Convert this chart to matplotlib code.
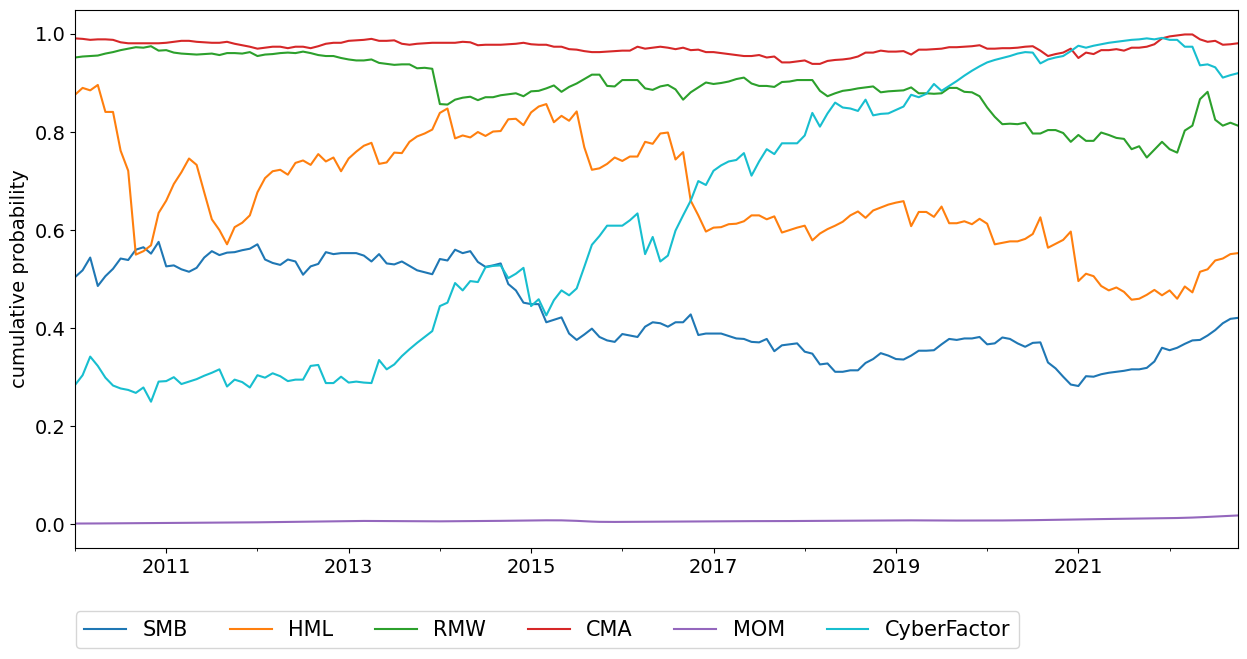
import pandas as pd
import matplotlib
matplotlib.use('Agg')
import matplotlib.pyplot as plt

# Monthly dates, Jan 2010 - Oct 2022
dates = pd.date_range('2010-01-01', periods=154, freq='MS')

smb = [0.504, 0.518, 0.544, 0.486, 0.506, 0.521, 0.542, 0.539, 0.56, 0.565, 0.552, 0.576, 0.526, 0.528, 0.52, 0.515,
       0.523, 0.544, 0.557, 0.549, 0.554, 0.555, 0.559, 0.562, 0.571, 0.54, 0.533,
       0.529, 0.54, 0.536, 0.509, 0.526, 0.531, 0.555, 0.551, 0.553, 0.553, 0.553, 0.548, 0.536, 0.551, 0.532, 0.53,
       0.536, 0.527, 0.518, 0.514, 0.51, 0.541, 0.538, 0.56, 0.553,
       0.557, 0.535, 0.525, 0.528, 0.532, 0.49, 0.477, 0.452, 0.449, 0.449, 0.412, 0.417, 0.422, 0.389, 0.376, 0.387,
       0.399, 0.382, 0.375, 0.372, 0.388, 0.385, 0.382, 0.403, 0.412, 0.41,
       0.403, 0.412, 0.412, 0.428, 0.386, 0.389, 0.389, 0.389, 0.384, 0.379, 0.378, 0.372, 0.371, 0.378, 0.353, 0.365,
       0.367, 0.369, 0.352, 0.348, 0.326, 0.328, 0.311, 0.311,
       0.314, 0.314, 0.329, 0.337, 0.349, 0.344, 0.337, 0.336, 0.344, 0.354, 0.354, 0.355, 0.367, 0.378, 0.376, 0.379,
       0.379, 0.382, 0.367, 0.369, 0.381, 0.378, 0.369, 0.362, 0.37, 0.371,
       0.33, 0.318, 0.301, 0.285, 0.282, 0.302, 0.301, 0.306, 0.309, 0.311, 0.313, 0.316, 0.316, 0.319, 0.332, 0.36,
       0.355, 0.36, 0.368, 0.375, 0.376, 0.385, 0.396, 0.41, 0.419, 0.421]

hml = [0.876, 0.89, 0.885, 0.896, 0.841, 0.841, 0.762, 0.721, 0.55, 0.557, 0.569, 0.635, 0.66, 0.694, 0.718, 0.746,
       0.733, 0.677, 0.622, 0.6, 0.571, 0.606, 0.615, 0.63, 0.677, 0.706, 0.72,
       0.723, 0.713, 0.737, 0.742, 0.733, 0.755, 0.74, 0.748, 0.72, 0.746, 0.76, 0.772, 0.778, 0.735, 0.738, 0.758,
       0.757, 0.78, 0.791, 0.797, 0.805, 0.839, 0.848, 0.787, 0.793,
       0.789, 0.8, 0.792, 0.801, 0.802, 0.826, 0.827, 0.814, 0.84, 0.852, 0.857, 0.82, 0.833, 0.823, 0.842, 0.769,
       0.723, 0.726, 0.735, 0.748, 0.741, 0.75, 0.75, 0.78, 0.776, 0.797,
       0.799, 0.744, 0.759, 0.66, 0.63, 0.597, 0.605, 0.606, 0.612, 0.613, 0.618, 0.63, 0.63, 0.622, 0.628, 0.595,
       0.6, 0.605, 0.609, 0.579, 0.593, 0.602, 0.609, 0.617,
       0.63, 0.638, 0.625, 0.64, 0.646, 0.652, 0.656, 0.659, 0.608, 0.637, 0.637, 0.627, 0.648, 0.614, 0.614, 0.618,
       0.612, 0.623, 0.613, 0.571, 0.574, 0.577, 0.577, 0.582, 0.592, 0.626,
       0.564, 0.572, 0.58, 0.597, 0.496, 0.511, 0.506, 0.486, 0.477, 0.483, 0.474, 0.458, 0.46, 0.468, 0.478, 0.467,
       0.477, 0.46, 0.485, 0.473, 0.515, 0.52, 0.538, 0.542, 0.551, 0.553]

rmw = [0.952, 0.954, 0.955, 0.956, 0.96, 0.963, 0.967, 0.97, 0.973, 0.972, 0.975, 0.966, 0.967, 0.962, 0.96, 0.959,
       0.958, 0.959, 0.96, 0.957, 0.961, 0.961, 0.96, 0.963, 0.955, 0.958, 0.959,
       0.961, 0.962, 0.961, 0.964, 0.961, 0.957, 0.955, 0.955, 0.951, 0.948, 0.946, 0.946, 0.948, 0.941, 0.939, 0.937,
       0.938, 0.938, 0.93, 0.931, 0.929, 0.857, 0.856, 0.866, 0.87,
       0.872, 0.865, 0.871, 0.871, 0.875, 0.877, 0.879, 0.873, 0.883, 0.884, 0.889, 0.895, 0.882, 0.892, 0.899, 0.908,
       0.917, 0.917, 0.894, 0.893, 0.906, 0.906, 0.906, 0.889, 0.886, 0.893,
       0.896, 0.887, 0.866, 0.881, 0.891, 0.901, 0.898, 0.9, 0.903, 0.908, 0.911, 0.899, 0.894, 0.894, 0.892, 0.902,
       0.903, 0.906, 0.906, 0.906, 0.884, 0.873, 0.879, 0.884,
       0.886, 0.889, 0.891, 0.893, 0.881, 0.883, 0.884, 0.885, 0.891, 0.879, 0.879, 0.878, 0.879, 0.89, 0.89, 0.882,
       0.881, 0.873, 0.85, 0.831, 0.816, 0.817, 0.816, 0.819, 0.797, 0.797,
       0.804, 0.804, 0.798, 0.78, 0.794, 0.782, 0.782, 0.799, 0.794, 0.788, 0.786, 0.765, 0.771, 0.748, 0.764, 0.78,
       0.765, 0.758, 0.803, 0.813, 0.867, 0.882, 0.825, 0.813, 0.819, 0.813]

cma = [0.991, 0.99, 0.988, 0.989, 0.989, 0.988, 0.983, 0.981, 0.981, 0.981, 0.981, 0.981, 0.982, 0.984, 0.986, 0.986,
       0.984, 0.983, 0.982, 0.982, 0.984, 0.98, 0.977, 0.974, 0.97, 0.972, 0.974,
       0.974, 0.971, 0.974, 0.974, 0.971, 0.975, 0.98, 0.982, 0.982, 0.986, 0.987, 0.988, 0.99, 0.986, 0.986, 0.987,
       0.98, 0.978, 0.98, 0.981, 0.982, 0.982, 0.982, 0.982, 0.984,
       0.983, 0.977, 0.978, 0.978, 0.978, 0.979, 0.98, 0.982, 0.979, 0.978, 0.978, 0.974, 0.974, 0.969, 0.968, 0.965,
       0.963, 0.963, 0.964, 0.965, 0.966, 0.966, 0.974, 0.97, 0.972, 0.974,
       0.972, 0.969, 0.972, 0.967, 0.968, 0.963, 0.963, 0.961, 0.959, 0.957, 0.955, 0.955, 0.957, 0.952, 0.954, 0.942,
       0.942, 0.944, 0.946, 0.939, 0.939, 0.945, 0.947, 0.948,
       0.95, 0.954, 0.962, 0.962, 0.966, 0.964, 0.964, 0.965, 0.958, 0.968, 0.968, 0.969, 0.97, 0.973, 0.973, 0.974,
       0.975, 0.977, 0.97, 0.97, 0.971, 0.971, 0.972, 0.974, 0.975, 0.966,
       0.955, 0.959, 0.962, 0.97, 0.951, 0.962, 0.959, 0.967, 0.967, 0.969, 0.966, 0.972, 0.972, 0.974, 0.979, 0.991,
       0.995, 0.997, 0.999, 0.999, 0.989, 0.984, 0.986, 0.978, 0.979, 0.981]

mom = [0.0015, 0.0015, 0.0016, 0.0017, 0.0018, 0.0019, 0.002, 0.002, 0.0021, 0.0022, 0.0023, 0.0024,
       0.0025, 0.0026, 0.0027, 0.0028, 0.0029, 0.003, 0.0031, 0.0032, 0.0033, 0.0035, 0.0037, 0.0039,
       0.004, 0.0042, 0.0044, 0.0046, 0.0048, 0.005, 0.0052, 0.0054, 0.0056, 0.0058, 0.006, 0.0062,
       0.0065, 0.0067, 0.0068, 0.0067, 0.0066, 0.0065, 0.0063, 0.0062, 0.0061, 0.006, 0.006, 0.006,
       0.006, 0.0061, 0.0062, 0.0063, 0.0064, 0.0065, 0.0066, 0.0068, 0.007, 0.0072, 0.0074, 0.0076,
       0.0078, 0.008, 0.0081, 0.0081, 0.008, 0.0075, 0.007, 0.0062, 0.0055, 0.005, 0.0048, 0.0048,
       0.0049, 0.005, 0.0051, 0.0052, 0.0053, 0.0054, 0.0055, 0.0056, 0.0057, 0.0058, 0.0059, 0.006,
       0.006, 0.0061, 0.0062, 0.0063, 0.0063, 0.0064, 0.0064, 0.0065, 0.0065, 0.0066, 0.0066, 0.0067,
       0.0067, 0.0068, 0.0068, 0.0069, 0.007, 0.0071, 0.0072, 0.0073, 0.0074, 0.0075, 0.0076, 0.0077,
       0.0078, 0.008, 0.008, 0.0079, 0.0078, 0.0078, 0.0077, 0.0077, 0.0076, 0.0076, 0.0076, 0.0076,
       0.0076, 0.0077, 0.0078, 0.0079, 0.008, 0.0082, 0.0084, 0.0086, 0.0088, 0.009, 0.0093, 0.0096,
       0.0099, 0.0102, 0.0104, 0.0106, 0.0108, 0.011, 0.0112, 0.0114, 0.0116, 0.0118, 0.012, 0.0122,
       0.0125, 0.0128, 0.0132, 0.0137, 0.0143, 0.015, 0.0158, 0.0167, 0.0175, 0.018]

cyber = [0.284, 0.304, 0.342, 0.323, 0.299, 0.283, 0.277, 0.274, 0.268, 0.279, 0.25, 0.291, 0.292, 0.3, 0.286, 0.291,
         0.296, 0.303, 0.309, 0.316, 0.281, 0.295, 0.29, 0.279, 0.304, 0.299, 0.308,
         0.302, 0.292, 0.295, 0.295, 0.323, 0.325, 0.288, 0.288, 0.301, 0.289, 0.291, 0.289, 0.288, 0.335, 0.316,
         0.326, 0.343, 0.357, 0.37, 0.382, 0.394, 0.445, 0.452, 0.492, 0.477,
         0.496, 0.494, 0.524, 0.527, 0.528, 0.502, 0.511, 0.523, 0.445, 0.459, 0.426, 0.457, 0.477, 0.467, 0.481,
         0.525, 0.57, 0.588, 0.609, 0.609, 0.609, 0.62, 0.634, 0.551, 0.586, 0.536,
         0.548, 0.599, 0.63, 0.66, 0.7, 0.692, 0.721, 0.732, 0.74, 0.743, 0.757, 0.711, 0.74, 0.765, 0.755, 0.777,
         0.777, 0.777, 0.793, 0.839, 0.811, 0.838, 0.86, 0.85,
         0.848, 0.843, 0.866, 0.834, 0.837, 0.838, 0.845, 0.852, 0.876, 0.871, 0.878, 0.898, 0.884, 0.894, 0.904,
         0.915, 0.925, 0.934, 0.942, 0.947, 0.951, 0.955, 0.96, 0.963, 0.962, 0.94,
         0.948, 0.952, 0.955, 0.965, 0.976, 0.972, 0.976, 0.979, 0.982, 0.984, 0.986, 0.988, 0.989, 0.991, 0.989,
         0.992, 0.988, 0.988, 0.974, 0.974, 0.936, 0.938, 0.932, 0.911, 0.916, 0.92]

df = pd.DataFrame({'SMB': smb, 'HML': hml, 'RMW': rmw, 'CMA': cma,
                   'MOM': mom, 'CyberFactor': cyber}, index=dates)

colors = ['tab:blue', 'tab:orange', 'tab:green', 'tab:red', 'tab:purple', 'tab:cyan']

fig = plt.figure(figsize=(12.47, 6.59), dpi=100)
ax = fig.add_axes([75 / 1247, 1 - 548 / 659, 1163 / 1247, 538 / 659])
df.plot(ax=ax, color=colors, linewidth=1.5, legend=False)

ax.set_ylabel('cumulative probability', fontsize=14)
ax.tick_params(axis='both', which='major', labelsize=14)
ax.tick_params(axis='x', which='minor', labelsize=14)

# Legend below the plot, in one row
ax.legend(loc='upper left', bbox_to_anchor=(0.001, -0.118), ncol=6, fontsize=15,
          borderaxespad=0.0, columnspacing=2.0)

fig.savefig('out.png', dpi=100)
